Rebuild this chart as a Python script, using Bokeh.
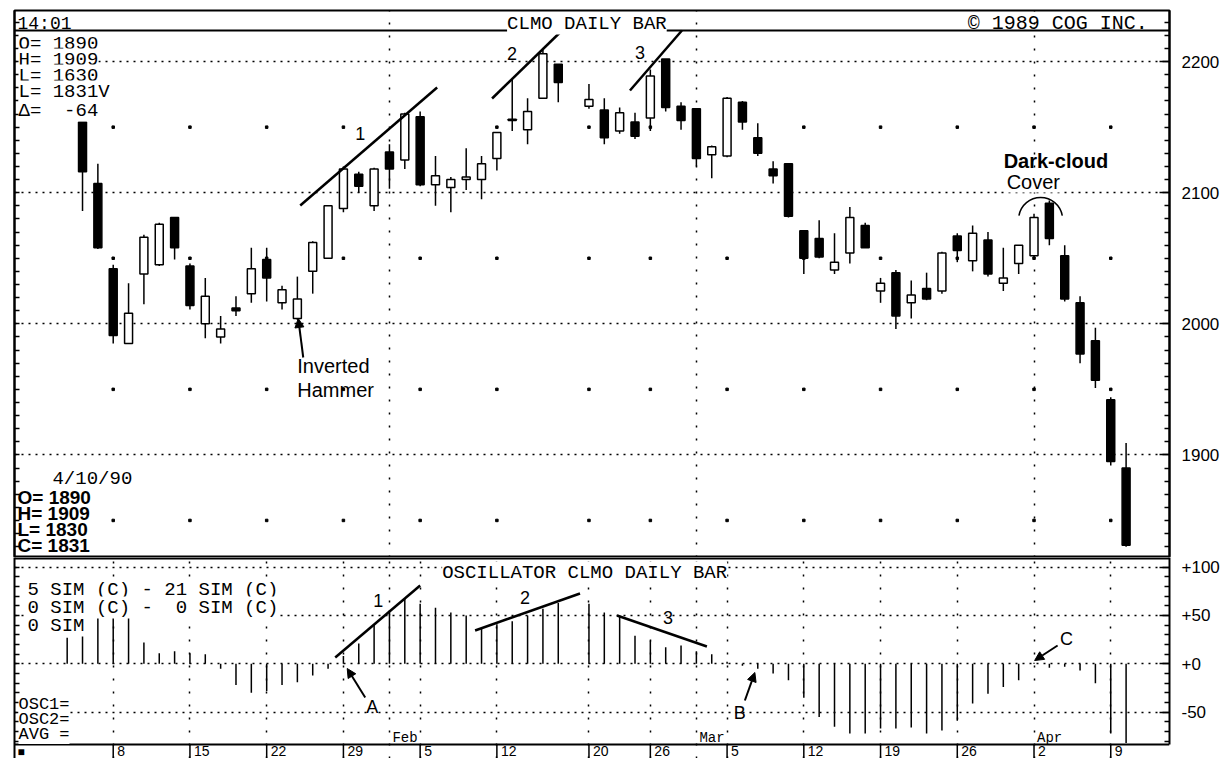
import numpy as np
import pandas as pd
from bokeh.plotting import figure
from bokeh.layouts import column
from bokeh.models import (Range1d, LinearAxis, FixedTicker, Label, Span, Arrow,
                          NormalHead, Grid)
from bokeh.core.properties import value
from bokeh.embed import file_html
from bokeh.resources import INLINE

# ---------------------------------------------------------------- data
HOLIDAYS = ["1990-02-19"]


def trading_days(start, end):
    return [d for d in pd.bdate_range(start, end).strftime("%Y-%m-%d") if d not in HOLIDAYS]


candle_dates = trading_days("1990-01-04", "1990-04-10")
opens = [2154, 2107, 2042, 1985, 2038, 2045, 2081, 2044, 2000, 1990, 2012, 2023, 2049, 2016,
         2004, 2040, 2050, 2088, 2114, 2090, 2131, 2125, 2158, 2106, 2104, 2110, 2110, 2126,
         2155, 2148, 2172, 2198,
         2166, 2163, 2147, 2154, 2157, 2202, 2166, 2164, 2129, 2128, 2169, 2142, 2118, 2122,
         2071, 2065, 2041, 2054, 2075, 2025, 2039, 2016, 2027, 2025, 2067, 2048, 2064, 2031,
         2046, 2052, 2092, 2052, 2016, 1987, 1942, 1890]
highs = [2154, 2122, 2045, 2031, 2068, 2077, 2081, 2046, 2035, 2006, 2021, 2058, 2058, 2029,
         2036, 2063, 2090, 2120, 2116, 2119, 2137, 2161, 2162, 2128, 2112, 2134, 2128, 2146,
         2187, 2172, 2209, 2198,
         2183, 2172, 2165, 2161, 2194, 2202, 2169, 2164, 2136, 2173, 2170, 2153, 2124, 2122,
         2071, 2079, 2069, 2089, 2077, 2035, 2041, 2033, 2039, 2055, 2069, 2075, 2070, 2058,
         2060, 2084, 2094, 2060, 2021, 1997, 1944, 1909]
lows = [2086, 2057, 1985, 1985, 2015, 2044, 2049, 2011, 1989, 1985, 2006, 2016, 2017, 2011,
        2003, 2023, 2050, 2085, 2100, 2086, 2103, 2118, 2105, 2090, 2085, 2102, 2095, 2117,
        2147, 2137, 2172, 2169,
        2164, 2137, 2145, 2141, 2147, 2162, 2148, 2120, 2111, 2127, 2148, 2128, 2107, 2081,
        2038, 2050, 2038, 2046, 2058, 2016, 1996, 2004, 2018, 2023, 2047, 2040, 2036, 2025,
        2038, 2050, 2060, 2017, 1970, 1951, 1892, 1830]
closes = [2116, 2058, 1991, 2008, 2066, 2076, 2058, 2014, 2021, 1996, 2010, 2042, 2035, 2026,
          2019, 2062, 2090, 2118, 2105, 2118, 2118, 2160, 2106, 2113, 2110, 2112, 2122, 2146,
          2156, 2162, 2206, 2184,
          2171, 2142, 2161, 2143, 2189, 2165, 2155, 2126, 2135, 2172, 2154, 2130, 2113, 2082,
          2050, 2051, 2047, 2081, 2058, 2031, 2006, 2022, 2019, 2054, 2056, 2069, 2038, 2035,
          2060, 2081, 2065, 2019, 1977, 1957, 1895, 1831]

osc_dates = trading_days("1990-01-03", "1990-04-10")
osc_values = [27, 33, 48, 50, 50, 22, 11, 13, 11, 10, -5, -22, -30, -28, -22, -19, -12, -5,
              8, 21, 41, 55, 67, 62, 58, 53, 50, 36, 41, 44, 50, 57, 63,
              62, 53, 50, 29, 24, 17, 19, 13, 10, 2, -2, -5, -10, -17, -35, -55, -65, -72,
              -72, -67, -67, -66, -72, -69, -59, -41, -31, -24, -17, 1, -4, -3, -7, -20,
              -72, -82]

week_tick_dates = ["1990-01-08", "1990-01-15", "1990-01-22", "1990-01-29", "1990-02-05",
                   "1990-02-12", "1990-02-20", "1990-02-26", "1990-03-05", "1990-03-12",
                   "1990-03-19", "1990-03-26", "1990-04-02", "1990-04-09"]
week_tick_labels = ["8", "15", "22", "29", "5", "12", "20", "26", "5", "12", "19", "26", "2", "9"]
month_dates = ["1990-02-01", "1990-03-01", "1990-04-02"]
month_labels = ["Feb", "Mar", "Apr"]
price_ticks = [1900, 2000, 2100, 2200]
price_dot_levels = [1850, 1950, 2050, 2150]
osc_ticks = [100, 50, 0, -50]
osc_tick_labels = ["+100", "+50", "+0", "-50"]


def slot(dates):
    return np.busday_count("1990-01-01", np.array(dates, dtype="datetime64[D]")).astype(float)


# ---------------------------------------------------------------- layout helpers
W = 1222
MONO = "Liberation Mono"
SANS = "Liberation Sans"
NB = "\u00a0"
PX0, PXS = 36.0, 15.36          # reference pixel of slot 0, pixels per slot
Y2000, PPP = 323.3, 1.311       # price panel: pixel of 2000, pixels per point
Y0, OPU = 663.3, 0.967          # oscillator panel: pixel of 0, pixels per unit
SEP, OSC_BOTTOM, PAGE_BOTTOM = 557, 744, 758


def sx(px):
    return (px - PX0) / PXS


def sp(py):
    return 2000 + (Y2000 - py) / PPP


def so(py):
    return (Y0 - py) / OPU


xr = Range1d(sx(14), sx(1170))


def base_fig(height, yr, top=0, outline=True):
    f = figure(width=W, height=height, x_range=xr, y_range=yr, output_backend="svg",
               toolbar_location=None, x_axis_location=None, y_axis_location=None,
               min_border_left=14, min_border_right=52, min_border_top=top, min_border_bottom=0,
               background_fill_color="white", border_fill_color="white",
               outline_line_color="black" if outline else None, outline_line_width=2)
    f.center = [c for c in f.center if not isinstance(c, Grid)]
    return f


def put(fig, conv, px, py, text, font=MONO, size=19, style="normal", align="left", bg=False):
    kw = dict(background_fill_color="white", background_fill_alpha=1.0) if bg else {}
    fig.add_layout(Label(x=sx(px), y=conv(py), text=text, text_font=font,
                         text_font_size=f"{size}px", text_font_style=style,
                         text_align=align, text_baseline="middle", text_color="black", **kw))


def lines(fig, conv, pts, w=2.5):
    fig.segment(x0=[sx(a) for a, b, c, d in pts], y0=[conv(b) for a, b, c, d in pts],
                x1=[sx(c) for a, b, c, d in pts], y1=[conv(d) for a, b, c, d in pts],
                line_color="black", line_width=w)


def arrow(fig, conv, x0, y0, x1, y1):
    fig.add_layout(Arrow(end=NormalHead(size=9, fill_color="black", line_color="black"),
                         x_start=sx(x0), y_start=conv(y0), x_end=sx(x1), y_end=conv(y1),
                         line_color="black", line_width=2))


def side_axes(fig, ticks, minor, overrides=None, bounds="auto"):
    right = LinearAxis(ticker=FixedTicker(ticks=ticks, minor_ticks=minor), major_tick_in=10,
                       major_tick_out=0, minor_tick_in=5, minor_tick_out=0,
                       major_tick_line_width=1.5, minor_tick_line_width=1.5,
                       axis_line_width=2, major_label_standoff=12, major_label_text_font=SANS,
                       major_label_text_font_size="17px", major_label_text_color="black",
                       bounds=bounds)
    if overrides:
        right.major_label_overrides = overrides
    fig.add_layout(right, "right")
    # left border: ticks only, no labels
    left = LinearAxis(ticker=FixedTicker(ticks=[], minor_ticks=sorted(set(minor) | set(ticks))),
                      major_tick_in=0, major_tick_out=0, minor_tick_in=5, minor_tick_out=0,
                      minor_tick_line_width=1.5, axis_line_width=2, major_label_standoff=0)
    fig.add_layout(left, "left")


wk = slot(week_tick_dates)
ms = slot(month_dates)

# ---------------------------------------------------------------- price panel
p1 = base_fig(SEP, Range1d(sp(SEP), sp(10)), top=10)
p1.add_layout(Grid(dimension=1, ticker=FixedTicker(ticks=price_ticks), grid_line_color="black",
                   grid_line_dash="2 5", grid_line_width=1.5))
p1.add_layout(Grid(dimension=0, ticker=FixedTicker(ticks=list(ms)), grid_line_color="black",
                   grid_line_dash="2 11", grid_line_width=1.5))
side_axes(p1, price_ticks, list(range(1830, 2240, 10)))
p1.add_layout(Span(location=sp(30), dimension="width", line_color="black", line_width=2))

p1.scatter(np.repeat(wk, len(price_dot_levels)), np.tile(price_dot_levels, len(wk)),
           marker="square", size=2.5, color="black")

xc = slot(candle_dates)
o, h, l, c = (np.array(v, dtype=float) for v in (opens, highs, lows, closes))
up = c >= o
p1.segment(x0=xc, y0=l, x1=xc, y1=h, line_color="black", line_width=1.5)
p1.vbar(x=xc[up], width=0.52, top=c[up], bottom=o[up], fill_color="white",
        line_color="black", line_width=1.5)
p1.vbar(x=xc[~up], width=0.52, top=o[~up], bottom=c[~up], fill_color="black",
        line_color="black", line_width=1.5)

lines(p1, sp, [(300, 205, 437, 87), (492, 98, 562, 30), (630, 90, 682, 30)])
put(p1, sp, 360, 133, "1", font=SANS, size=18, align="center")
put(p1, sp, 512, 53, "2", font=SANS, size=18, align="center")
put(p1, sp, 640, 52, "3", font=SANS, size=18, align="center")

put(p1, sp, 297, 365, "Inverted", font=SANS, size=20)
put(p1, sp, 297, 389, "Hammer", font=SANS, size=20)
arrow(p1, sp, 303, 357, 298, 318)

put(p1, sp, 1004, 160, "Dark-cloud", font=SANS, size=20, style="bold")
put(p1, sp, 1007, 181, "Cover", font=SANS, size=20, bg=True)
p1.arc(x=[sx(1041)], y=[sp(219)], radius=22, radius_units="screen",
       start_angle=np.radians(10), end_angle=np.radians(170), line_color="black", line_width=1.5)

put(p1, sp, 17, 23, "14:01", size=18)
put(p1, sp, 507, 23, "CLMO DAILY BAR", size=19, bg=True)
put(p1, sp, 968, 23, "© 1989 COG INC.", size=20)

for yy, t in zip([43, 59, 75, 91, 110],
                 ["O= 1890", "H= 1909", "L= 1630", "L= 1831V", "Δ=" + NB * 2 + "-64"]):
    put(p1, sp, 18, yy, t, size=19, bg=True)

put(p1, sp, 52, 478, "4/10/90", size=19)
for yy, t in zip([497, 513, 529, 545], ["O= 1890", "H= 1909", "L= 1830", "C= 1831"]):
    put(p1, sp, 17, yy, t, font=SANS, size=19, style="bold")

# ---------------------------------------------------------------- oscillator panel + date strip
p2 = base_fig(PAGE_BOTTOM - SEP, Range1d(so(PAGE_BOTTOM), so(SEP)), outline=False)
p2.add_layout(Grid(dimension=1, ticker=FixedTicker(ticks=osc_ticks), grid_line_color="black",
                   grid_line_dash="2 5", grid_line_width=1.5))
p2.add_layout(Grid(dimension=0, ticker=FixedTicker(ticks=sorted(set(list(wk) + list(ms)))),
                   grid_line_color="black", grid_line_dash="2 11", grid_line_width=1.5))
side_axes(p2, osc_ticks, list(range(-80, 101, 10)), dict(zip(osc_ticks, osc_tick_labels)),
          bounds=(so(OSC_BOTTOM), so(SEP)))
p2.add_layout(Span(location=so(SEP), dimension="width", line_color="black", line_width=4))
p2.add_layout(Span(location=so(OSC_BOTTOM), dimension="width", line_color="black", line_width=2))

xo = slot(osc_dates)
p2.segment(x0=xo, y0=0, x1=xo, y1=np.array(osc_values, dtype=float),
           line_color="black", line_width=1.5)

lines(p2, so, [(335, 657, 420, 585), (475, 630, 580, 593), (617, 615, 707, 646)])
put(p2, so, 378, 600, "1", font=SANS, size=18, align="center")
put(p2, so, 525, 597, "2", font=SANS, size=18, align="center")
put(p2, so, 668, 617, "3", font=SANS, size=18, align="center")
put(p2, so, 372, 706, "A", font=SANS, size=18, align="center")
put(p2, so, 740, 712, "B", font=SANS, size=18, align="center")
put(p2, so, 1067, 638, "C", font=SANS, size=18, align="center")
arrow(p2, so, 365, 697, 347, 668)
arrow(p2, so, 745, 700, 755, 672)
arrow(p2, so, 1058, 645, 1035, 660)

put(p2, so, 442, 572, "OSCILLATOR CLMO DAILY BAR", size=19, bg=True)
put(p2, so, 27, 589, "5 SIM (C) - 21 SIM (C)", size=19, bg=True)
put(p2, so, 27, 607, "0 SIM (C) -" + NB * 2 + "0 SIM (C)", size=19, bg=True)
put(p2, so, 27, 625, "0 SIM", size=19, bg=True)
put(p2, so, 18, 704, "OSC1=", size=17, bg=True)
put(p2, so, 18, 719, "OSC2=", size=17, bg=True)
put(p2, so, 18, 734, "AVG =", size=17, bg=True)
p2.text(x=ms, y=so(737), text=month_labels, x_offset=3, text_font=value(MONO),
        text_font_size="14px", text_baseline="middle", text_color="black")

# date strip below the oscillator frame
p2.segment(x0=wk, y0=so(OSC_BOTTOM), x1=wk, y1=so(PAGE_BOTTOM), line_color="black",
           line_width=1.5)
p2.text(x=wk, y=so(750.5), text=week_tick_labels, x_offset=4, text_baseline="middle",
        text_align="left", text_font=value(SANS), text_font_size="14px", text_color="black")
p2.text(x=[sx(17)], y=[so(751)], text=["■"], text_baseline="middle", text_align="left",
        text_font=value(SANS), text_font_size="12px", text_color="black")

layout = column(p1, p2, spacing=0)
open("out.html", "w").write(file_html(layout, INLINE))
